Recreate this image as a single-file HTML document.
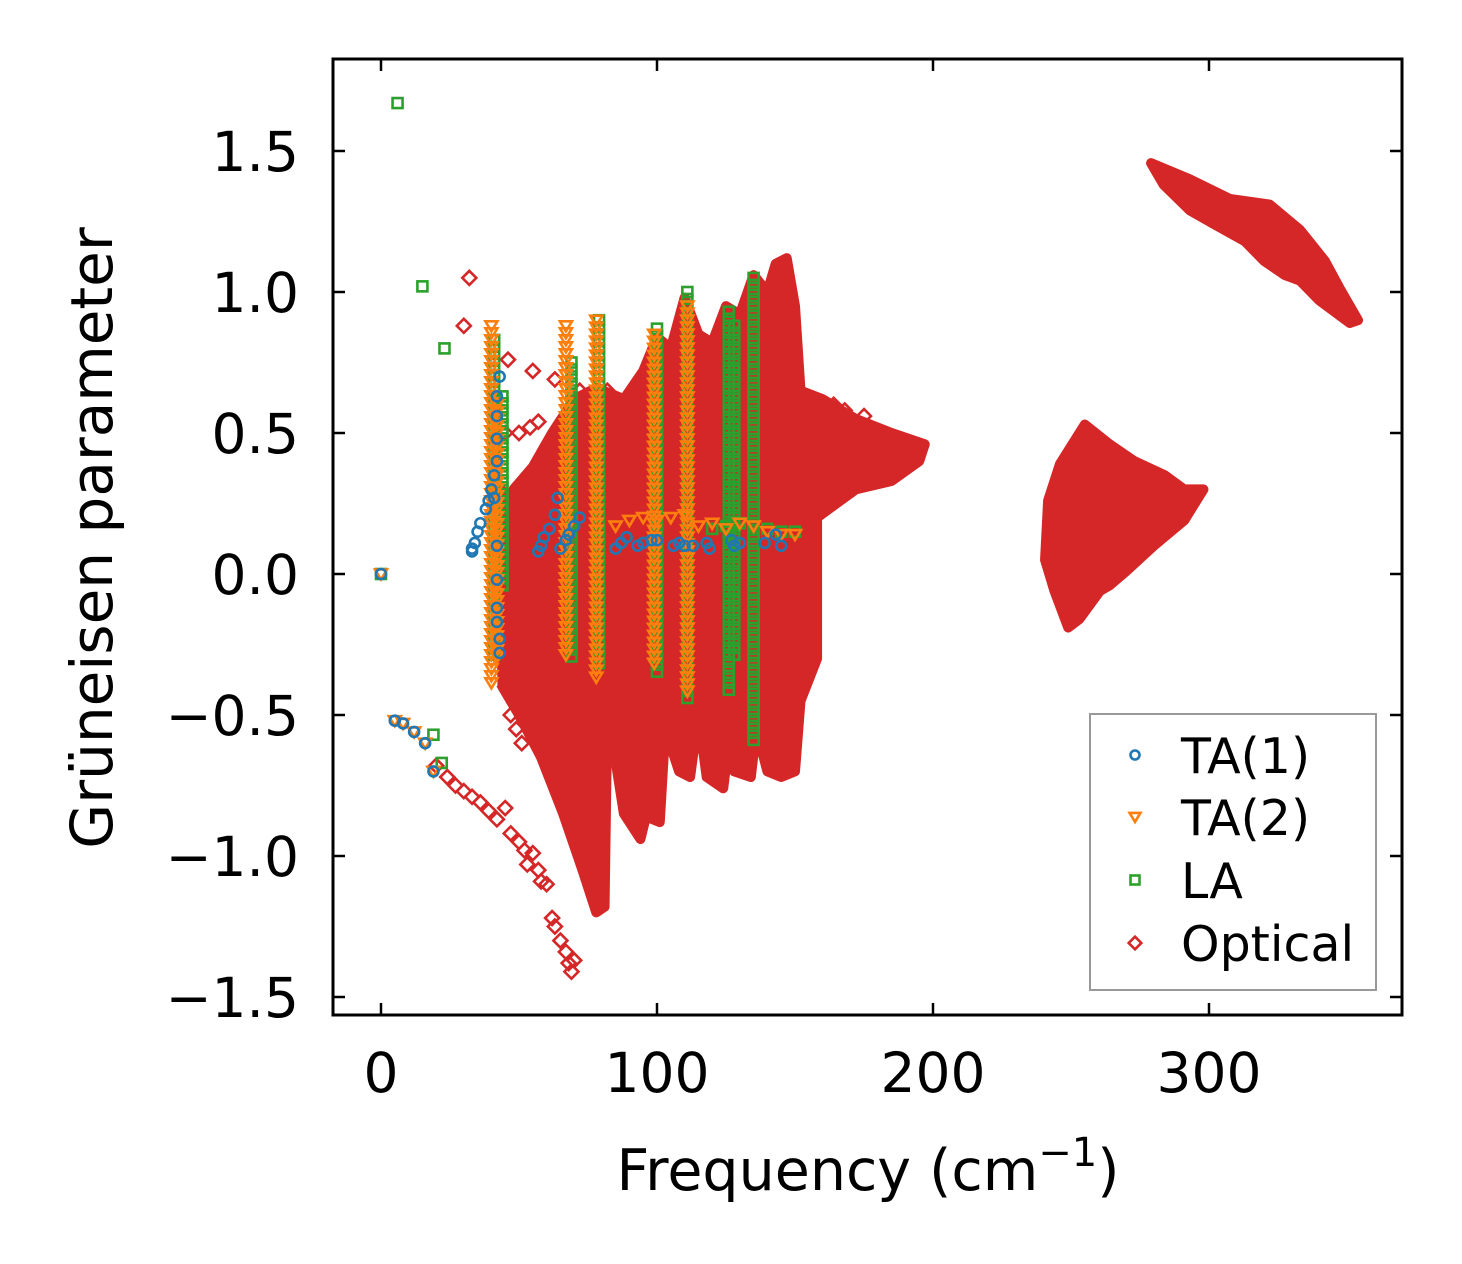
<!DOCTYPE html>
<html><head><meta charset="utf-8"><style>
html,body{margin:0;padding:0;background:#fff}
svg{display:block;font-family:"DejaVu Sans","Liberation Sans",sans-serif}
</style></head><body>
<svg id="chart" width="1462" height="1264" viewBox="0 0 1462 1264" xmlns="http://www.w3.org/2000/svg">
<rect width="1462" height="1264" fill="#fff"/>
<defs><clipPath id="clip"><rect x="333" y="59" width="1069" height="956"/></clipPath></defs>
<g id="plot" clip-path="url(#clip)"></g>
<g id="axes"></g>
<g id="legend"></g>
</svg>
<script>
const xTicks=[0,100,200,300];
const yTicks=[-1.5,-1.0,-0.5,0.0,0.5,1.0,1.5];
const yTickLabels=["\u22121.5","\u22121.0","\u22120.5","0.0","0.5","1.0","1.5"];
// Optical dense regions (freq, gamma) outlines
const opticalMain=[[48,0.3],[55,0.38],[62,0.5],[70,0.62],[78,0.66],[88,0.62],[95,0.72],[100,0.84],[105,0.8],[110,0.98],[115,0.85],[120,0.82],[125,0.95],[130,0.92],[135,1.06],[140,1.0],[143,1.1],[147,1.12],[150,0.95],[152,0.65],[160,0.62],[172,0.55],[185,0.5],[197,0.46],[195,0.4],[185,0.33],[172,0.3],[158,0.2],[158,-0.3],[152,-0.45],[150,-0.7],[145,-0.72],[140,-0.7],[136,-0.55],[134,-0.72],[128,-0.7],[126,-0.6],[124,-0.76],[118,-0.72],[115,-0.5],[112,-0.72],[108,-0.7],[103,-0.55],[101,-0.88],[96,-0.86],[94,-0.94],[88,-0.85],[84,-0.6],[82,-0.45],[80,-0.35],[75,-0.25],[68,-0.3],[60,-0.15],[52,0.0],[46,0.1]];
const opticalLobe=[[43,0.3],[60,0.2],[80,-0.3],[82,-0.5],[81,-1.18],[78,-1.2],[73,-1.05],[66,-0.85],[58,-0.65],[50,-0.5],[44,-0.4]];
const opticalBlob=[[255,0.53],[264,0.46],[273,0.40],[284,0.35],[291,0.30],[298,0.30],[291,0.19],[280,0.10],[270,0.01],[264,-0.04],[260.5,-0.06],[253,-0.16],[249,-0.19],[244,-0.06],[240.6,0.05],[241.7,0.26],[246,0.39]];
const opticalBand=[[279,1.457],[293,1.40],[307.6,1.33],[322,1.31],[333,1.22],[342,1.11],[347.5,1.01],[354,0.90],[351,0.89],[340,0.97],[333,1.04],[327.5,1.06],[320,1.11],[313,1.18],[302,1.24],[293,1.29],[283.6,1.38]];
const opticalPoints=[[32,1.05],[30,0.88],[20,-0.68],[24,-0.72],[27,-0.75],[30,-0.77],[33,-0.79],[36,-0.81],[39,-0.84],[42,-0.87],[45,-0.83],[47,-0.92],[50,-0.95],[52,-0.98],[55,-0.99],[53,-1.03],[57,-1.05],[58,-1.09],[60,-1.1],[62,-1.22],[63,-1.25],[65,-1.3],[67,-1.34],[68,-1.38],[69,-1.41],[70,-1.37],[46,0.76],[55,0.72],[63,0.69],[72,0.65],[82,0.65],[91,0.62],[45,0.5],[50,0.5],[54,0.52],[57,0.54],[85,0.44],[90,0.38],[88,0.25],[45,-0.4],[47,-0.5],[49,-0.55],[51,-0.6],[164,0.6],[168,0.58],[175,0.56]];
// TA(1)
const ta1=[[0,0],[5,-0.52],[8,-0.53],[12,-0.56],[16,-0.6],[19,-0.7],[33,0.08],[33,0.09],[34,0.11],[35,0.15],[36,0.18],[38,0.23],[39,0.26],[40,0.3],[41,0.35],[42,0.4],[42,0.48],[42,0.56],[42,0.63],[43,0.7],[41,0.27],[42,0.1],[42,-0.02],[42,-0.12],[42,-0.17],[43,-0.23],[43,-0.28],[57,0.08],[58,0.1],[59,0.13],[61,0.16],[63,0.21],[64,0.27],[65,0.09],[67,0.12],[68,0.14],[70,0.17],[72,0.2],[85,0.09],[87,0.11],[89,0.13],[93,0.1],[95,0.11],[98,0.12],[100,0.12],[106,0.1],[108,0.11],[110,0.1],[113,0.1],[118,0.11],[119,0.09],[127,0.12],[128,0.1],[130,0.11],[139,0.11],[143,0.14],[145,0.1]];
// TA(2) vertical stripes [freq, gmin, gmax] and scatter
const ta2Stripes=[[40,-0.4,0.88],[42,-0.3,0.6],[67,-0.3,0.88],[78,-0.38,0.9],[99,-0.32,0.85],[111,-0.42,0.95]];
const ta2=[[0,0],[5,-0.52],[8,-0.53],[12,-0.56],[16,-0.6],[19,-0.7],[85,0.17],[90,0.19],[95,0.2],[100,0.19],[105,0.2],[110,0.21],[115,0.17],[120,0.18],[125,0.16],[130,0.18],[135,0.17],[140,0.15],[145,0.14],[150,0.14]];
// LA stripes and scatter
const laStripes=[[41,-0.3,0.83],[44,-0.05,0.63],[69,-0.3,0.75],[79,-0.33,0.9],[100,-0.35,0.87],[111,-0.45,1.0],[126,-0.43,0.93],[128,-0.3,0.88],[135,-0.6,1.05]];
const la=[[6,1.67],[15,1.02],[23,0.8],[0,0],[19,-0.57],[22,-0.67],[120,0.16],[125,0.17],[130,0.18],[135,0.17],[140,0.16],[145,0.15],[150,0.15]];

const X=f=>381+2.76*f;
const Y=g=>574-282*g;
const NS="http://www.w3.org/2000/svg";
const plot=document.getElementById('plot');
const axes=document.getElementById('axes');
const legend=document.getElementById('legend');
const RED="#d62728",BLUE="#1f77b4",ORANGE="#ff7f0e",GREEN="#2ca02c";
function mk(tag,parent){const e=document.createElementNS(NS,tag);parent.appendChild(e);return e;}
function marker(kind,cx,cy,parent,s){
  let e;
  if(kind==='o'){e=mk('circle',parent);e.setAttribute('cx',cx);e.setAttribute('cy',cy);e.setAttribute('r',5*s);}
  else if(kind==='v'){e=mk('polygon',parent);e.setAttribute('points',`${cx-6*s},${cy-4.5*s} ${cx+6*s},${cy-4.5*s} ${cx},${cy+5.5*s}`);}
  else if(kind==='s'){e=mk('rect',parent);e.setAttribute('x',cx-5*s);e.setAttribute('y',cy-5*s);e.setAttribute('width',10*s);e.setAttribute('height',10*s);}
  else {e=mk('polygon',parent);e.setAttribute('points',`${cx},${cy-7*s} ${cx+7*s},${cy} ${cx},${cy+7*s} ${cx-7*s},${cy}`);}
  const c={o:BLUE,v:ORANGE,s:GREEN,d:RED}[kind];
  e.setAttribute('fill','none');e.setAttribute('stroke',c);e.setAttribute('stroke-width',2.6);
  return e;
}
[[opticalMain,'optical-main-region'],[opticalLobe,'optical-lobe-region'],[opticalBlob,'optical-250-region'],[opticalBand,'optical-high-band']].forEach(([arr,name])=>{
  const p=mk('polygon',plot);
  p.setAttribute('points',arr.map(d=>X(d[0])+','+Y(d[1])).join(' '));
  p.setAttribute('fill',RED);p.setAttribute('stroke',RED);p.setAttribute('stroke-width',10);p.setAttribute('stroke-linejoin','round');
  
  
});
opticalPoints.forEach(d=>{
  const e=marker('d',X(d[0]),Y(d[1]),plot,1);
  
  
});
function stripes(arr,kind,name){
  arr.forEach(s=>{
    for(let py=Y(s[2]);py<=Y(s[1]);py+=7){
      const e=marker(kind,X(s[0]),py,plot,1);
      
      
    }
  });
}
stripes(laStripes,'s','la-point');
stripes(ta2Stripes,'v','ta2-point');
la.forEach(d=>{const e=marker('s',X(d[0]),Y(d[1]),plot,1);
  
  });
ta2.forEach(d=>{const e=marker('v',X(d[0]),Y(d[1]),plot,1);
  
  });
ta1.forEach(d=>{const e=marker('o',X(d[0]),Y(d[1]),plot,1);
  
  });

const fr=mk('rect',axes);
fr.setAttribute('x',333);fr.setAttribute('y',59);fr.setAttribute('width',1069);fr.setAttribute('height',956);
fr.setAttribute('fill','none');fr.setAttribute('stroke','#000');fr.setAttribute('stroke-width',3);


function line(x1,y1,x2,y2){const l=mk('line',axes);l.setAttribute('x1',x1);l.setAttribute('y1',y1);l.setAttribute('x2',x2);l.setAttribute('y2',y2);l.setAttribute('stroke','#000');l.setAttribute('stroke-width',2.5);return l;}
xTicks.forEach(t=>{
  const a=line(X(t),1015,X(t),1003);
  
  
  const b=line(X(t),59,X(t),71);
  
  
  const tx=mk('text',axes);tx.textContent=String(t);
  tx.setAttribute('x',X(t));tx.setAttribute('y',1092);tx.setAttribute('text-anchor','middle');tx.setAttribute('font-size',55);
  
  
});
yTicks.forEach((t,i)=>{
  const a=line(333,Y(t),345,Y(t));
  
  
  const b=line(1402,Y(t),1390,Y(t));
  
  
  const tx=mk('text',axes);tx.textContent=yTickLabels[i];
  tx.setAttribute('x',299);tx.setAttribute('y',Y(t)+20);tx.setAttribute('text-anchor','end');tx.setAttribute('font-size',55);
  
  
});
const xt=mk('text',axes);
xt.innerHTML='Frequency (cm<tspan dy="-24" font-size="40">\u22121</tspan><tspan dy="24">)</tspan>';
xt.setAttribute('x',868);xt.setAttribute('y',1190);xt.setAttribute('text-anchor','middle');xt.setAttribute('font-size',57);


const yt=mk('text',axes);
yt.textContent='Grüneisen parameter';
yt.setAttribute('transform','translate(112,538) rotate(-90)');yt.setAttribute('text-anchor','middle');yt.setAttribute('font-size',58);



const lb=mk('rect',legend);
lb.setAttribute('x',1090);lb.setAttribute('y',714);lb.setAttribute('width',286);lb.setAttribute('height',276);
lb.setAttribute('fill','#fff');lb.setAttribute('stroke','#999');lb.setAttribute('stroke-width',2);


const legLabels=['TA(1)','TA(2)','LA','Optical'];
const legKinds=['o','v','s','d'];
const legYs=[755,817,880,943];
legLabels.forEach((lab,i)=>{
  const m=marker(legKinds[i],1135,legYs[i],legend,0.9);
  
  
  const t=mk('text',legend);t.textContent=lab;
  t.setAttribute('x',1181);t.setAttribute('y',legYs[i]+18);t.setAttribute('font-size',49);
  
  
});
</script>
</body></html>
